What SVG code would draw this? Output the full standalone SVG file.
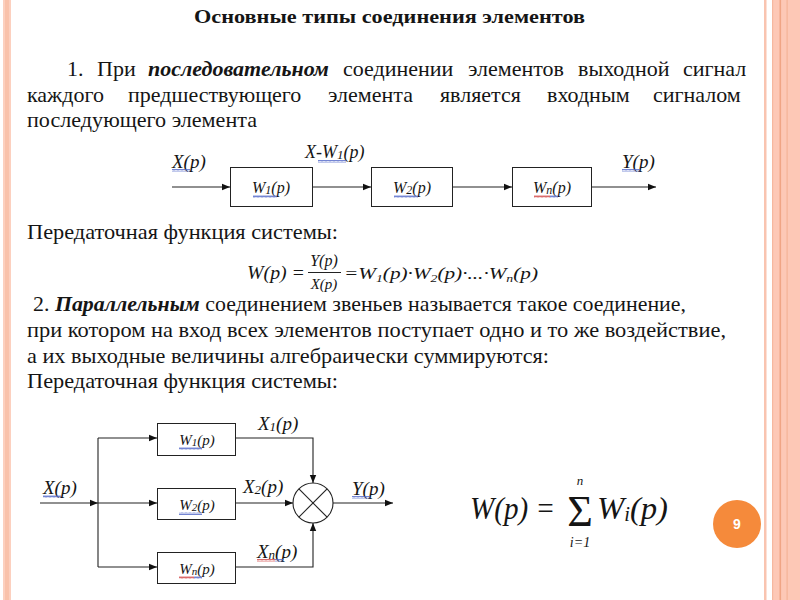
<svg xmlns="http://www.w3.org/2000/svg" width="800" height="600" viewBox="0 0 800 600" font-family="Liberation Serif">
<defs>
<style>
.t{fill:#151515}
.p{font-size:22px}
.m{font-style:italic;fill:#151515}
.box{fill:#fff;stroke:#222;stroke-width:1}
.ln{fill:none;stroke:#222;stroke-width:1.1}
.arr{fill:none;stroke:#222;stroke-width:1.1;marker-end:url(#ah)}
</style>
<marker id="ah" viewBox="0 0 10 10" refX="10" refY="5" markerWidth="8" markerHeight="8" markerUnits="userSpaceOnUse" orient="auto">
<path d="M0,1 L10,5 L0,9 Z" fill="#111"/>
</marker>
<pattern id="wb" width="4" height="3" patternUnits="userSpaceOnUse"><path d="M0,2.5 L1,0.5 L2,2.5 L3,0.5 L4,2.5" stroke="#5066c8" stroke-width="0.8" fill="none"/></pattern>
<pattern id="wr" width="4" height="3" patternUnits="userSpaceOnUse"><path d="M0,2.5 L1,0.5 L2,2.5 L3,0.5 L4,2.5" stroke="#d04545" stroke-width="0.8" fill="none"/></pattern>
</defs>
<rect width="800" height="600" fill="#fff"/>
<!-- borders -->
<rect x="3" y="0" width="8" height="600" fill="#fcd0bf"/>
<rect x="5" y="0" width="4" height="600" fill="#f9c2ab"/>
<rect x="764" y="0" width="2.5" height="600" fill="#f9c4b0"/>
<rect x="772" y="0" width="28" height="600" fill="#fdc8b6"/>
<rect x="772" y="0" width="1.2" height="600" fill="#f6b79f"/>
<rect x="779.5" y="0" width="1.6" height="600" fill="#f0a585"/>
<rect x="786.5" y="0" width="1.2" height="600" fill="#f4b397"/>

<!-- title -->
<text class="t" font-family="Liberation Serif" x="194" y="23" font-size="19" font-weight="bold" textLength="391" lengthAdjust="spacingAndGlyphs">Основные типы соединения элементов</text>

<!-- paragraph 1 -->
<text class="t p" font-family="Liberation Serif" y="76"><tspan x="67">1.</tspan><tspan x="97">При</tspan><tspan x="148" font-weight="bold" font-style="italic">последовательном</tspan><tspan x="343">соединении</tspan><tspan x="468">элементов</tspan><tspan x="578">выходной</tspan><tspan x="683">сигнал</tspan></text>
<text class="t p" font-family="Liberation Serif" y="102"><tspan x="27">каждого</tspan><tspan x="128">предшествующего</tspan><tspan x="328">элемента</tspan><tspan x="440">является</tspan><tspan x="547">входным</tspan><tspan x="653">сигналом</tspan></text>
<text class="t p" font-family="Liberation Serif" x="27" y="127" textLength="230" lengthAdjust="spacingAndGlyphs">последующего элемента</text>

<!-- series diagram -->
<g id="connectors-series">
<line class="arr" x1="172" y1="187" x2="230" y2="187"/>
<line class="arr" x1="312" y1="187" x2="371" y2="187"/>
<line class="arr" x1="452" y1="187" x2="512" y2="187"/>
<line class="arr" x1="591" y1="187" x2="656" y2="187"/>
</g>
<g id="s-labels">
<text class="m" font-family="Liberation Serif" x="172" y="168" font-size="19">X(p)</text>
<rect x="172" y="169" width="18" height="3" fill="url(#wb)"/>
<text class="m" font-family="Liberation Serif" x="305" y="158" font-size="18">X-W<tspan font-size="13" dy="1">1</tspan><tspan dy="-1">(p)</tspan></text>
<rect x="318" y="160" width="28" height="3" fill="url(#wb)"/>
<text class="m" font-family="Liberation Serif" x="622" y="168" font-size="19">Y(p)</text>
<rect x="622" y="169" width="18" height="3" fill="url(#wb)"/>
</g>
<g id="s-w1">
<rect class="box" x="230.5" y="167.5" width="82" height="39"/>
<text class="m" font-family="Liberation Serif" x="271" y="193" font-size="16" text-anchor="middle">W<tspan font-size="12" dy="1">1</tspan><tspan dy="-1">(p)</tspan></text>
<rect x="253" y="195" width="24" height="3" fill="url(#wb)"/>
</g>
<g id="s-w2">
<rect class="box" x="371.5" y="167.5" width="81" height="39"/>
<text class="m" font-family="Liberation Serif" x="412" y="193" font-size="16" text-anchor="middle">W<tspan font-size="12" dy="1">2</tspan><tspan dy="-1">(p)</tspan></text>
<rect x="394" y="195" width="24" height="3" fill="url(#wb)"/>
</g>
<g id="s-wn">
<rect class="box" x="512.5" y="167.5" width="79" height="39"/>
<text class="m" font-family="Liberation Serif" x="552" y="193" font-size="16" text-anchor="middle">W<tspan font-size="12" dy="1">n</tspan><tspan dy="-1">(p)</tspan></text>
<rect x="534" y="195" width="16" height="3" fill="url(#wr)"/>
<rect x="550" y="195" width="8" height="3" fill="url(#wb)"/>
</g>

<text class="t p" font-family="Liberation Serif" x="27" y="239" textLength="311" lengthAdjust="spacingAndGlyphs">Передаточная функция системы:</text>

<!-- formula 1 -->
<g id="formula1">
<text class="m" font-family="Liberation Serif" x="247" y="279" font-size="18" textLength="58" lengthAdjust="spacingAndGlyphs">W(p) =</text>
<text class="m" font-family="Liberation Serif" x="324" y="266" font-size="16" text-anchor="middle">Y(p)</text>
<line x1="308" y1="272.5" x2="341" y2="272.5" stroke="#222" stroke-width="1"/>
<text class="m" font-family="Liberation Serif" x="324" y="289" font-size="15" text-anchor="middle">X(p)</text>
<text class="m" font-family="Liberation Serif" x="344" y="279" font-size="17" textLength="194" lengthAdjust="spacingAndGlyphs">=W<tspan font-size="11" dy="3">1</tspan><tspan dy="-3">(p)·W</tspan><tspan font-size="11" dy="3">2</tspan><tspan dy="-3">(p)·...·W</tspan><tspan font-size="11" dy="3">n</tspan><tspan dy="-3">(p)</tspan></text>
</g>

<!-- paragraph 2 -->
<text class="t p" font-family="Liberation Serif" x="33" y="311" textLength="653" lengthAdjust="spacingAndGlyphs">2. <tspan font-weight="bold" font-style="italic">Параллельным</tspan> соединением звеньев называется такое соединение,</text>
<text class="t p" font-family="Liberation Serif" x="27" y="337" textLength="699" lengthAdjust="spacingAndGlyphs">при котором на вход всех элементов поступает одно и то же воздействие,</text>
<text class="t p" font-family="Liberation Serif" x="27" y="363" textLength="522" lengthAdjust="spacingAndGlyphs">а их выходные величины алгебраически суммируются:</text>
<text class="t p" font-family="Liberation Serif" x="27" y="388" textLength="311" lengthAdjust="spacingAndGlyphs">Передаточная функция системы:</text>

<!-- parallel diagram -->
<g id="connectors-parallel">
<line class="arr" x1="40" y1="503" x2="98" y2="503"/>
<line class="ln" x1="98" y1="438" x2="98" y2="567"/>
<line class="arr" x1="98" y1="438" x2="157" y2="438"/>
<line class="arr" x1="98" y1="503" x2="157" y2="503"/>
<line class="arr" x1="98" y1="567" x2="157" y2="567"/>
<polyline class="arr" points="236,438 313,438 313,483"/>
<line class="arr" x1="236" y1="503" x2="293" y2="503"/>
<polyline class="arr" points="236,567 313,567 313,523"/>
<line class="arr" x1="333" y1="503" x2="393" y2="503"/>
</g>
<g id="p-labels">
<text class="m" font-family="Liberation Serif" x="43" y="494" font-size="19">X(p)</text>
<rect x="43" y="495" width="18" height="3" fill="url(#wb)"/>
<text class="m" font-family="Liberation Serif" x="258" y="430" font-size="19">X<tspan font-size="13" dy="1">1</tspan><tspan dy="-1">(p)</tspan></text>
<text class="m" font-family="Liberation Serif" x="243" y="493" font-size="19">X<tspan font-size="13" dy="1">2</tspan><tspan dy="-1">(p)</tspan></text>
<text class="m" font-family="Liberation Serif" x="257" y="558" font-size="19">X<tspan font-size="13" dy="1">n</tspan><tspan dy="-1">(p)</tspan></text>
<rect x="257" y="559" width="18" height="3" fill="url(#wr)"/>
<rect x="275" y="559" width="8" height="3" fill="url(#wb)"/>
<text class="m" font-family="Liberation Serif" x="352" y="495" font-size="19">Y(p)</text>
<rect x="352" y="496" width="18" height="3" fill="url(#wb)"/>
</g>
<g id="p-w1">
<rect class="box" x="157.5" y="423.5" width="78" height="32"/>
<text class="m" font-family="Liberation Serif" x="197" y="445" font-size="15" text-anchor="middle">W<tspan font-size="11" dy="1">1</tspan><tspan dy="-1">(p)</tspan></text>
<rect x="179" y="447" width="23" height="3" fill="url(#wb)"/>
</g>
<g id="p-w2">
<rect class="box" x="157.5" y="488.5" width="78" height="31"/>
<text class="m" font-family="Liberation Serif" x="197" y="510" font-size="15" text-anchor="middle">W<tspan font-size="11" dy="1">2</tspan><tspan dy="-1">(p)</tspan></text>
<rect x="179" y="512" width="23" height="3" fill="url(#wb)"/>
</g>
<g id="p-wn">
<rect class="box" x="157.5" y="552.5" width="78" height="31"/>
<text class="m" font-family="Liberation Serif" x="197" y="574" font-size="15" text-anchor="middle">W<tspan font-size="11" dy="1">n</tspan><tspan dy="-1">(p)</tspan></text>
<rect x="179" y="576" width="15" height="3" fill="url(#wr)"/>
<rect x="194" y="576" width="8" height="3" fill="url(#wb)"/>
</g>
<g id="p-sum">
<circle cx="313" cy="503" r="20" fill="#fff" stroke="#222" stroke-width="1.1"/>
<line class="ln" x1="298.9" y1="488.9" x2="327.1" y2="517.1"/>
<line class="ln" x1="327.1" y1="488.9" x2="298.9" y2="517.1"/>
</g>

<!-- formula 2 -->
<g id="formula2">
<text class="m" font-family="Liberation Serif" x="470" y="519" font-size="32" textLength="85" lengthAdjust="spacingAndGlyphs">W(p) =</text>
<text class="t" font-family="Liberation Serif" x="580" y="526" font-size="44" text-anchor="middle">Σ</text>
<text class="m" font-family="Liberation Serif" x="580" y="485" font-size="13" text-anchor="middle">n</text>
<text class="m" font-family="Liberation Serif" x="580" y="547" font-size="14" text-anchor="middle">i=1</text>
<text class="m" font-family="Liberation Serif" x="597" y="519" font-size="32" textLength="71" lengthAdjust="spacingAndGlyphs">W<tspan font-size="20" dy="2">i</tspan><tspan dy="-2">(p)</tspan></text>
</g>

<!-- page number -->
<g id="page-num">
<circle cx="737" cy="524" r="24" fill="#f58a3b"/>
<text x="737" y="529" font-family="Liberation Sans" font-size="14" font-weight="bold" fill="#fff" text-anchor="middle">9</text>
</g>
</svg>
